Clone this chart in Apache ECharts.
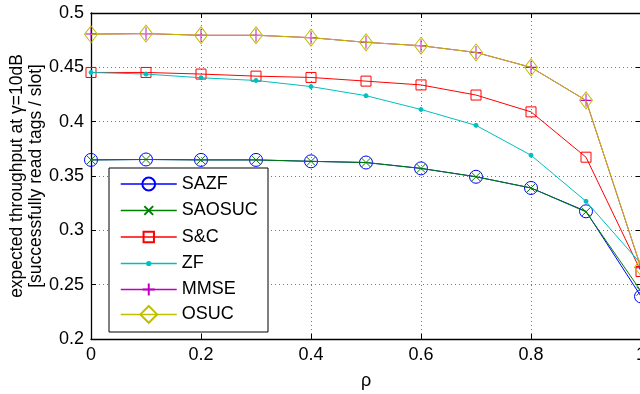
<!DOCTYPE html>
<html>
<head>
<meta charset="utf-8">
<script src="https://cdn.jsdelivr.net/npm/echarts@6/dist/echarts.min.js"></script>
<style>
html,body{margin:0;padding:0;background:#fff;}
#c{width:640px;height:394px;}
</style>
</head>
<body>
<div id="c"></div>
<script>
const rho = [0, 0.1, 0.2, 0.3, 0.4, 0.5, 0.6, 0.7, 0.8, 0.9, 1.0];
const seriesNames = ['SAZF', 'SAOSUC', 'S&C', 'ZF', 'MMSE', 'OSUC'];
const sazf   = [0.3648, 0.3652, 0.3648, 0.3648, 0.3635, 0.3624, 0.3570, 0.3493, 0.3390, 0.3175, 0.2392];
const saosuc = [0.3648, 0.3652, 0.3648, 0.3648, 0.3635, 0.3624, 0.3570, 0.3493, 0.3390, 0.3170, 0.2440];
const sc     = [0.4453, 0.4453, 0.4438, 0.4419, 0.4407, 0.4373, 0.4338, 0.4245, 0.4090, 0.3673, 0.2621];
const zf     = [0.4453, 0.4438, 0.4404, 0.4379, 0.4323, 0.4239, 0.4112, 0.3966, 0.3691, 0.3267, 0.2691];
const mmse   = [0.4806, 0.4810, 0.4795, 0.4795, 0.4773, 0.4730, 0.4699, 0.4637, 0.4500, 0.4196, 0.2655];
const osuc   = [0.4804, 0.4811, 0.4795, 0.4795, 0.4773, 0.4730, 0.4699, 0.4637, 0.4500, 0.4196, 0.2660];
const yTicks = { min: 0.2, max: 0.5, interval: 0.05 };
const xTicks = { min: 0, max: 1, interval: 0.2 };

const FONT = "'Liberation Sans', Arial, Helvetica, sans-serif";
function pairs(ys) { return rho.map((x, i) => [x, ys[i]]); }

const X_PATH = 'path://M0,0L10,10M10,0L0,10';
const PLUS_PATH = 'path://M5,0L5,10M0,5L10,5';
const DIAMOND_PATH = 'path://M5,0L10,7L5,14L0,7Z';

const styles = [
  { data: sazf,   color: '#0000ff', symbol: 'circle',     size: 13,       fill: 'transparent', legH: 16 },
  { data: saosuc, color: '#008000', symbol: X_PATH,       size: 9,        fill: 'transparent', legH: 11 },
  { data: sc,     color: '#ff0000', symbol: 'rect',       size: 10,       fill: 'transparent', legH: 13 },
  { data: zf,     color: '#00bfbf', symbol: 'circle',     size: 4,        fill: '#00bfbf',     legH: 4 },
  { data: mmse,   color: '#bf00bf', symbol: PLUS_PATH,    size: [11, 13], fill: 'transparent', legH: 15 },
  { data: osuc,   color: '#bfbf00', symbol: DIAMOND_PATH, size: [13, 17], fill: 'transparent', legH: 21 }
];

const series = styles.map((s, i) => ({
  name: seriesNames[i],
  type: 'line',
  xAxisIndex: 0,
  yAxisIndex: 0,
  data: pairs(s.data),
  symbol: s.symbol,
  symbolSize: s.size,
  symbolKeepAspect: false,
  showAllSymbol: true,
  animation: false,
  lineStyle: { color: s.color, width: 1 },
  itemStyle: { color: s.fill, borderColor: s.color, borderWidth: 1 },
  emphasis: { disabled: true },
  z: 2 + i
}));

// legend rows (one legend component per row so each marker keeps its own size)
const LEG_FONT = 18;
const legendCenters = [184, 210.5, 237, 263.5, 289.5, 315.5];
const legends = styles.map((s, i) => ({
  data: [seriesNames[i]],
  orient: 'vertical',
  left: 120,
  top: legendCenters[i] - Math.max(s.legH, LEG_FONT) / 2,
  padding: 0,
  itemWidth: 56,
  itemHeight: s.legH,
  symbolKeepAspect: true,
  selectedMode: false,
  lineStyle: { width: 1.5 },
  textStyle: { color: '#000', fontSize: LEG_FONT, fontFamily: FONT },
  z: 20
}));

const axisLine = { show: true, onZero: false, lineStyle: { color: '#000', width: 1.3 } };
const tick = { show: true, inside: true, length: 5, lineStyle: { color: '#000', width: 1 } };

const chart = echarts.init(document.getElementById('c'), null, { renderer: 'canvas' });
chart.setOption({
  backgroundColor: '#fff',
  animation: false,
  grid: { left: 91, top: 13, right: -1, bottom: 55, containLabel: false, outerBoundsMode: 'none' },
  xAxis: [
    {
      type: 'value', position: 'bottom', min: xTicks.min, max: xTicks.max, interval: xTicks.interval,
      axisLine: axisLine, axisTick: tick,
      axisLabel: { color: '#000', fontSize: 18, fontFamily: FONT, margin: 7 },
      splitLine: { show: true, lineStyle: { color: '#777', type: [1, 3], width: 1 } },
      name: 'ρ', nameLocation: 'middle', nameGap: 33, nameMoveOverlap: false,
      nameTextStyle: { color: '#000', fontSize: 18, fontFamily: FONT }
    },
    {
      type: 'value', position: 'top', min: xTicks.min, max: xTicks.max, interval: xTicks.interval,
      axisLine: axisLine, axisTick: tick, axisLabel: { show: false }, splitLine: { show: false }
    }
  ],
  yAxis: [
    {
      type: 'value', position: 'left', min: yTicks.min, max: yTicks.max, interval: yTicks.interval,
      axisLine: axisLine, axisTick: tick,
      axisLabel: { color: '#000', fontSize: 18, fontFamily: FONT, margin: 7 },
      splitLine: { show: true, lineStyle: { color: '#777', type: [1, 3], width: 1 } },
      name: 'expected throughput at γ=10dB\n[successfully read tags / slot]',
      nameLocation: 'middle', nameGap: 45, nameRotate: 90, nameMoveOverlap: false,
      nameTextStyle: { color: '#000', fontSize: 17.5, fontFamily: FONT, lineHeight: 19 }
    },
    {
      type: 'value', position: 'right', min: yTicks.min, max: yTicks.max, interval: yTicks.interval,
      axisLine: axisLine, axisTick: tick, axisLabel: { show: false }, splitLine: { show: false }
    }
  ],
  graphic: [{
    type: 'rect',
    z: 15,
    shape: { x: 109, y: 168, width: 159, height: 164 },
    style: { fill: '#fff', stroke: '#000', lineWidth: 1 }
  }],
  legend: legends,
  series: series
});
</script>
</body>
</html>
